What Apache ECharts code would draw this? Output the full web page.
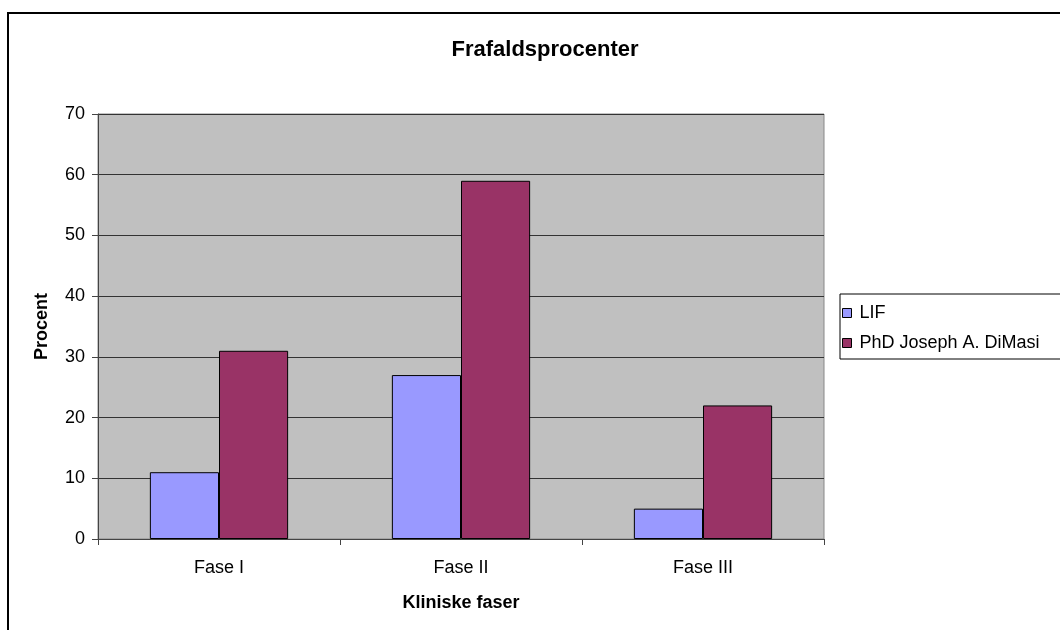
<!DOCTYPE html>
<html>
<head>
<meta charset="utf-8">
<script src="https://cdn.jsdelivr.net/npm/echarts@6/dist/echarts.min.js"></script>
<style>
  html, body { margin: 0; padding: 0; background: #fff; }
  #main { width: 1060px; height: 630px; }
</style>
</head>
<body>
<div id="main"></div>
<script>
const categories = ['Fase I', 'Fase II', 'Fase III']
const lifValues = [11, 27, 5]
const dimasiValues = [31, 59, 22]
const seriesNames = ['LIF', 'PhD Joseph A. DiMasi']

const chart = echarts.init(document.getElementById('main'))
const font = 'Liberation Sans, Arial, sans-serif'

const option = {
  animation: false,
  textStyle: { fontFamily: font },
  title: {
    text: 'Frafaldsprocenter',
    left: 540,
    top: 34,
    textAlign: 'center',
    textStyle: { fontSize: 22, fontWeight: 'bold', color: '#000', fontFamily: font }
  },
  graphic: [
    {
      type: 'rect',
      shape: { x: 8, y: 13, width: 1200, height: 800 },
      style: { fill: 'none', stroke: '#000', lineWidth: 2 },
      z: -1
    }
  ],
  legend: {
    orient: 'vertical',
    left: 840,
    top: 294,
    data: seriesNames,
    icon: 'rect',
    itemWidth: 9,
    itemHeight: 9,
    itemGap: 12,
    padding: [10, 200, 7, 2],
    borderColor: '#000',
    borderWidth: 1,
    backgroundColor: '#fff',
    textStyle: { fontSize: 18, color: '#000', fontFamily: font, padding: [0, 0, 0, 3] },
    itemStyle: { borderColor: '#000', borderWidth: 1 }
  },
  grid: {
    left: 98,
    right: 236,
    top: 114,
    bottom: 91,
    outerBoundsMode: 'none',
    show: true,
    backgroundColor: '#C0C0C0',
    borderColor: '#888',
    borderWidth: 1
  },
  xAxis: {
    type: 'category',
    data: categories,
    name: 'Kliniske faser',
    nameLocation: 'middle',
    nameGap: 55,
    nameTextStyle: { fontSize: 18, fontWeight: 'bold', color: '#000' },
    axisLine: { lineStyle: { color: '#444', width: 1 } },
    axisTick: { show: true, alignWithLabel: false, length: 6, lineStyle: { color: '#444' } },
    axisLabel: { fontSize: 18, color: '#000', margin: 20 }
  },
  yAxis: {
    type: 'value',
    min: 0,
    max: 70,
    interval: 10,
    name: 'Procent',
    nameLocation: 'middle',
    nameGap: 47,
    nameRotate: 90,
    nameTextStyle: { fontSize: 18, fontWeight: 'bold', color: '#000' },
    axisLine: { show: true, lineStyle: { color: '#444', width: 1 } },
    axisTick: { show: true, length: 6, lineStyle: { color: '#444' } },
    axisLabel: { fontSize: 18, color: '#000', margin: 13 },
    splitLine: { show: true, lineStyle: { color: '#333', width: 1 } }
  },
  series: [
    {
      name: seriesNames[0],
      type: 'bar',
      data: lifValues,
      barGap: '0%',
      barCategoryGap: '42.86%',
      itemStyle: { color: '#9999FF', borderColor: '#000', borderWidth: 1 }
    },
    {
      name: seriesNames[1],
      type: 'bar',
      data: dimasiValues,
      barGap: '0%',
      barCategoryGap: '42.86%',
      itemStyle: { color: '#993366', borderColor: '#000', borderWidth: 1 }
    }
  ]
}

chart.setOption(option)
</script>
</body>
</html>
